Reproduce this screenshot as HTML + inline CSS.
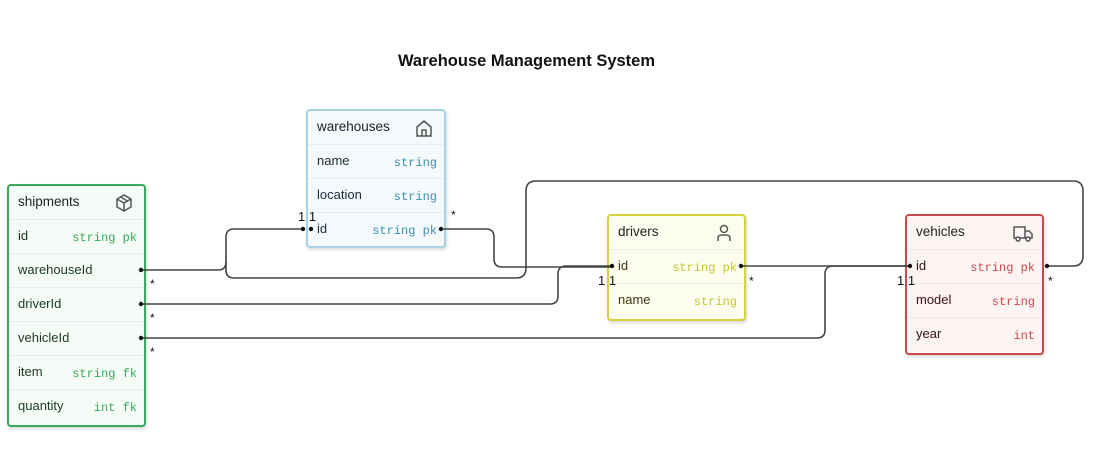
<!DOCTYPE html>
<html><head><meta charset="utf-8"><style>
body{margin:0;width:1093px;height:457px;background:#fff;font-family:"Liberation Sans",sans-serif;position:relative;overflow:hidden}
.t{position:absolute;box-sizing:border-box;border:2px solid;border-radius:4px;box-shadow:1px 2px 3px rgba(0,0,0,.15)}
.r{position:absolute;left:0;right:0;height:34px;font-size:13px;border-top:1px solid rgba(0,0,0,.05)}
.r .n{position:absolute;left:9px;top:8px}
.r .y{position:absolute;right:7px;top:11px;font-family:"Liberation Mono",monospace;font-size:12px}
.h{position:absolute;left:9px;top:8px;font-size:13.5px;color:#222}
.l{position:absolute;font-size:12px;color:#111;z-index:3}
svg.c{z-index:2}
</style></head><body>
<div style="position:absolute;left:0;width:1053px;top:52px;text-align:center;font-size:16.5px;font-weight:bold;color:#111">Warehouse Management System</div>
<svg class="c" width="1093" height="457" style="position:absolute;left:0;top:0" fill="none" stroke="#444" stroke-width="1.6">
<path d="M141 270 H218 Q226 270 226 262 V237 Q226 229 234 229 H303"/>
<path d="M226 262 V270 Q226 278 234 278 H516 Q526 278 526 268 V191 Q526 181 536 181 H1073 Q1083 181 1083 191 V256 Q1083 266 1073 266 H1047"/>
<path d="M441 229 H486 Q494 229 494 237 V259 Q494 267 502 267 H612"/>
<path d="M141 304 H550 Q558 304 558 296 V274 Q558 266 566 266 H612"/>
<path d="M141 338 H817 Q825 338 825 330 V274 Q825 266 833 266 H910"/>
<path d="M741 266 H910"/>
<g fill="#111" stroke="none"><circle cx="141" cy="270" r="2.2"/><circle cx="141" cy="304" r="2.2"/><circle cx="141" cy="338" r="2.2"/><circle cx="303" cy="229" r="2.2"/><circle cx="311" cy="229" r="2.2"/><circle cx="441" cy="229" r="2.2"/><circle cx="612" cy="266" r="2.2"/><circle cx="741" cy="266" r="2.2"/><circle cx="910" cy="266" r="2.2"/><circle cx="1047" cy="266" r="2.2"/></g>
</svg>
<div class="l" style="left:150px;top:277px">*</div><div class="l" style="left:150px;top:311px">*</div><div class="l" style="left:150px;top:345px">*</div>
<div class="l" style="left:451px;top:208px">*</div><div class="l" style="left:749px;top:274px">*</div><div class="l" style="left:1048px;top:274px">*</div>
<div class="l" style="left:298px;top:209px;font-size:13px">1&nbsp;1</div><div class="l" style="left:598px;top:273px;font-size:13px">1&nbsp;1</div><div class="l" style="left:897px;top:273px;font-size:13px">1&nbsp;1</div>

<div class="t" style="left:7px;top:184px;width:139px;height:243px;border-color:#3aa85a;background:#f5fbf6">
<div class="h">shipments</div>
<svg style="position:absolute;right:10px;top:7px" width="20" height="20" fill="none" stroke="#555" stroke-width="1.5"><path d="M10 2 L17 6 V14 L10 18 L3 14 V6 Z M3 6 L10 10 L17 6 M10 10 V18 M6.5 4 L13.5 8"/></svg>
<div class="r" style="top:33px;color:#1b3a22"><span class="n">id</span><span class="y" style="color:#3aa85a">string pk</span></div>
<div class="r" style="top:67px;color:#1b3a22"><span class="n">warehouseId</span></div>
<div class="r" style="top:101px;color:#1b3a22"><span class="n">driverId</span></div>
<div class="r" style="top:135px;color:#1b3a22"><span class="n">vehicleId</span></div>
<div class="r" style="top:169px;color:#1b3a22"><span class="n">item</span><span class="y" style="color:#3aa85a">string fk</span></div>
<div class="r" style="top:203px;color:#1b3a22"><span class="n">quantity</span><span class="y" style="color:#3aa85a">int fk</span></div>
</div>

<div class="t" style="left:306px;top:109px;width:140px;height:139px;border-color:#a8d4e3;background:#f4f9fc">
<div class="h">warehouses</div>
<svg style="position:absolute;right:10px;top:7px" width="20" height="20" fill="none" stroke="#555" stroke-width="1.5"><path d="M3 9 L10 3 L17 9 V18 H3 Z M8 18 V12 H12 V18"/></svg>
<div class="r" style="top:33px;color:#1a2f3a"><span class="n">name</span><span class="y" style="color:#3a8fb0">string</span></div>
<div class="r" style="top:67px;color:#1a2f3a"><span class="n">location</span><span class="y" style="color:#3a8fb0">string</span></div>
<div class="r" style="top:101px;color:#1a2f3a"><span class="n">id</span><span class="y" style="color:#3a8fb0">string pk</span></div>
</div>

<div class="t" style="left:607px;top:214px;width:139px;height:107px;border-color:#d4d43a;background:#fcfcef">
<div class="h">drivers</div>
<svg style="position:absolute;right:10px;top:7px" width="20" height="20" fill="none" stroke="#555" stroke-width="1.5"><circle cx="10" cy="6" r="3.5"/><path d="M4 18 V15 Q4 12 8 12 H12 Q16 12 16 15 V18"/></svg>
<div class="r" style="top:33px;color:#3a3a10"><span class="n">id</span><span class="y" style="color:#c8c82a">string pk</span></div>
<div class="r" style="top:67px;color:#3a3a10"><span class="n">name</span><span class="y" style="color:#c8c82a">string</span></div>
</div>

<div class="t" style="left:905px;top:214px;width:139px;height:141px;border-color:#c94a4a;background:#fcf3f3">
<div class="h">vehicles</div>
<svg style="position:absolute;right:8px;top:7px" width="22" height="20" fill="none" stroke="#555" stroke-width="1.5"><path d="M2 4 H13 V15 H2 Z M13 8 H17 L20 11 V15 H13"/><circle cx="6" cy="16" r="2" fill="#fff"/><circle cx="16" cy="16" r="2" fill="#fff"/></svg>
<div class="r" style="top:33px;color:#3a1010"><span class="n">id</span><span class="y" style="color:#c94a4a">string pk</span></div>
<div class="r" style="top:67px;color:#3a1010"><span class="n">model</span><span class="y" style="color:#c94a4a">string</span></div>
<div class="r" style="top:101px;color:#3a1010"><span class="n">year</span><span class="y" style="color:#c94a4a">int</span></div>
</div>
</body></html>
